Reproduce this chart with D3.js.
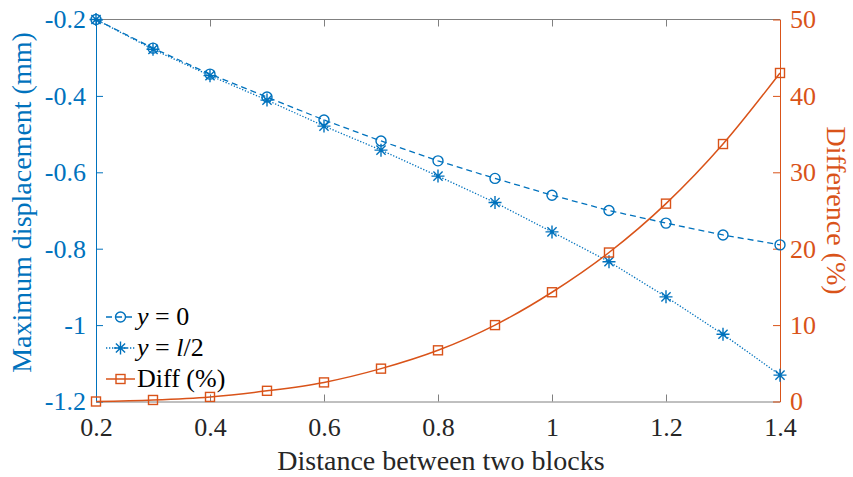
<!DOCTYPE html>
<html><head><meta charset="utf-8">
<script src="https://cdn.jsdelivr.net/npm/d3@7"></script>
<style>body{margin:0;background:#fff}svg{display:block}svg text, svg tspan{font-family:'Liberation Serif' !important}</style>
</head><body><svg id="c" width="853" height="477" font-family="Liberation Serif"></svg>
<script>
const xs = [0.2,0.3,0.4,0.5,0.6,0.7,0.8,0.9,1.0,1.1,1.2,1.3,1.4];
const y0Vals = [-0.200,-0.275,-0.343,-0.403,-0.463,-0.518,-0.570,-0.616,-0.660,-0.700,-0.733,-0.764,-0.790];
const yHalfVals = [-0.200,-0.278,-0.347,-0.411,-0.479,-0.542,-0.610,-0.679,-0.756,-0.834,-0.926,-1.024,-1.131];
const diffVals = [0.0,0.2,0.6,1.4,2.5,4.3,6.7,10.0,14.3,19.5,25.9,33.7,43.0];
const xTicks = [0.2,0.4,0.6,0.8,1,1.2,1.4];
const yLeftTicks = [-1.2,-1,-0.8,-0.6,-0.4,-0.2];
const yRightTicks = [0,10,20,30,40,50];
const blue = "#0072BD", orange = "#D95319", gray = "#262626";
const FF = "Liberation Serif";

const svg = d3.select("#c");
const L = 96, R = 780, T = 19.5, B = 401.5;
const x = d3.scaleLinear().domain([0.2,1.4]).range([L,R]);
const yl = d3.scaleLinear().domain([-1.2,-0.2]).range([B,T]);
const yr = d3.scaleLinear().domain([0,50]).range([B,T]);
const fs = 26;

svg.append("line").attr("x1",L).attr("x2",R).attr("y1",T).attr("y2",T).attr("stroke","#808080").attr("stroke-width",1);
const gx = svg.append("g").attr("transform",`translate(0,${B})`)
  .call(d3.axisBottom(x).tickValues(xTicks).tickFormat(d=>String(d)).tickSizeInner(-7).tickSizeOuter(0).tickPadding(15));
gx.attr("font-family",FF);
gx.select(".domain").attr("stroke","#808080");
gx.selectAll(".tick line").attr("stroke","#808080");
gx.selectAll("text").attr("fill",gray).attr("font-family",FF).attr("font-size",fs).attr("dy","0.75em");
const gt = svg.append("g").attr("transform",`translate(0,${T})`)
  .call(d3.axisTop(x).tickValues(xTicks).tickFormat("").tickSizeInner(-7).tickSizeOuter(0));
gt.select(".domain").remove();
gt.selectAll(".tick line").attr("stroke","#808080");
const gl = svg.append("g").attr("transform",`translate(${L},0)`)
  .call(d3.axisLeft(yl).tickValues(yLeftTicks).tickFormat(d=>String(d)).tickSizeInner(-7).tickSizeOuter(0).tickPadding(10));
gl.attr("font-family",FF);
gl.select(".domain").attr("stroke",blue);
gl.selectAll(".tick line").attr("stroke",blue);
gl.selectAll("text").attr("fill",blue).attr("font-family",FF).attr("font-size",fs);
const gr = svg.append("g").attr("transform",`translate(${R},0)`)
  .call(d3.axisRight(yr).tickValues(yRightTicks).tickSizeInner(-7).tickSizeOuter(0).tickPadding(10));
gr.attr("font-family",FF);
gr.select(".domain").attr("stroke",orange);
gr.selectAll(".tick line").attr("stroke",orange);
gr.selectAll("text").attr("fill",orange).attr("font-family",FF).attr("font-size",fs);

svg.append("text").attr("x",441).attr("y",470).attr("text-anchor","middle").attr("fill",gray).attr("font-family",FF).attr("font-size",28).text("Distance between two blocks");
svg.append("text").attr("transform",`translate(31,${(T+B)/2-8}) rotate(-90)`).attr("text-anchor","middle").attr("fill",blue).attr("font-family",FF).attr("font-size",28).text("Maximum displacement (mm)");
svg.append("text").attr("transform",`translate(827,${(T+B)/2}) rotate(90)`).attr("text-anchor","middle").attr("fill",orange).attr("font-family",FF).attr("font-size",28).text("Difference (%)");

const lineL = d3.line().x(d=>x(d[0])).y(d=>yl(d[1]));
const lineR = d3.line().x(d=>x(d[0])).y(d=>yr(d[1])).curve(d3.curveMonotoneX);
const d0 = xs.map((v,i)=>[v,y0Vals[i]]);
const dh = xs.map((v,i)=>[v,yHalfVals[i]]);
const dd = xs.map((v,i)=>[v,diffVals[i]]);

svg.append("path").datum(d0).attr("d",lineL).attr("fill","none").attr("stroke",blue).attr("stroke-width",1.3).attr("stroke-dasharray","6,4");
svg.append("path").datum(dh).attr("d",lineL).attr("fill","none").attr("stroke",blue).attr("stroke-width",1.3).attr("stroke-dasharray","1.3,1.7");
svg.append("path").datum(dd).attr("d",lineR).attr("fill","none").attr("stroke",orange).attr("stroke-width",1.5);

function circ(g,cx,cy){g.append("circle").attr("cx",cx).attr("cy",cy).attr("r",5).attr("fill","none").attr("stroke",blue).attr("stroke-width",1.4);}
function star(g,cx,cy){const s=6.5,s2=4.6;
  const p=`M${cx-s},${cy}L${cx+s},${cy}M${cx},${cy-s}L${cx},${cy+s}M${cx-s2},${cy-s2}L${cx+s2},${cy+s2}M${cx-s2},${cy+s2}L${cx+s2},${cy-s2}`;
  g.append("path").attr("d",p).attr("stroke",blue).attr("stroke-width",1.4).attr("fill","none");}
function sq(g,cx,cy){g.append("rect").attr("x",cx-4.5).attr("y",cy-4.5).attr("width",9).attr("height",9).attr("fill","none").attr("stroke",orange).attr("stroke-width",1.4);}

const gm = svg.append("g");
d0.forEach(d=>circ(gm,x(d[0]),yl(d[1])));
dh.forEach(d=>star(gm,x(d[0]),yl(d[1])));
dd.forEach(d=>sq(gm,x(d[0]),yr(d[1])));

const lg = svg.append("g");
const rows = [
 {y:317, dash:"6,4", col:blue, mk:circ, parts:[["y","italic"],[" = 0","normal"]]},
 {y:348, dash:"1.3,1.7", col:blue, mk:star, parts:[["y","italic"],[" = ","normal"],["l","italic"],["/2","normal"]]},
 {y:379, dash:null, col:orange, mk:sq, parts:[["Diff (%)","normal"]]}
];
rows.forEach(r=>{
  const ln = lg.append("line").attr("x1",106).attr("x2",135).attr("y1",r.y).attr("y2",r.y).attr("stroke",r.col).attr("stroke-width",r.col===orange?1.5:1.3);
  if(r.dash) ln.attr("stroke-dasharray",r.dash);
  r.mk(lg,120.5,r.y);
  const t = lg.append("text").attr("x",137).attr("y",r.y+8).attr("fill","#000").attr("font-family",FF).attr("font-size",26);
  r.parts.forEach(p=>t.append("tspan").attr("font-style",p[1]).text(p[0]));
});
</script></body></html>
